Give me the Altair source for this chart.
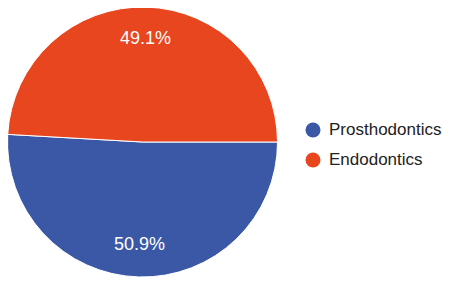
import math
import altair as alt
import pandas as pd

categories = ["Prosthodontics", "Endodontics"]
values = [50.9, 49.1]
labels = ["50.9%", "49.1%"]
colors = ["#3b58a6", "#e8461f"]

df = pd.DataFrame({"cat": categories, "val": values, "label": labels, "ord": [0, 1]})

start = math.pi / 2
theta = alt.Theta("val:Q", stack=True, scale=alt.Scale(range=[start, start + 2 * math.pi]))
color = alt.Color(
    "cat:N",
    scale=alt.Scale(domain=categories, range=colors),
    sort=categories,
    legend=alt.Legend(
        title=None, orient="none", legendX=296.5, legendY=113.5,
        symbolType="circle", symbolSize=225, symbolStrokeWidth=0,
        labelFontSize=17, labelFont="Liberation Sans", labelColor="#222222",
        labelOffset=7.5, rowPadding=12, padding=0, labelLimit=200,
    ),
)

base = alt.Chart(df).encode(
    theta=theta,
    order=alt.Order("ord:Q"),
    x=alt.value(134.5), y=alt.value(134),
)

arcs = base.mark_arc(outerRadius=135, stroke="white", strokeWidth=1).encode(color=color)
text = base.mark_text(radius=103, color="white", fontSize=18, font="Liberation Sans").encode(
    text="label:N"
)

chart = (arcs + text).properties(
    width=435, height=270, autosize=alt.AutoSizeParams(type="none"), padding=0
).configure_view(stroke=None)

chart.save("out.html", embed_options={"renderer": "svg", "actions": False})
